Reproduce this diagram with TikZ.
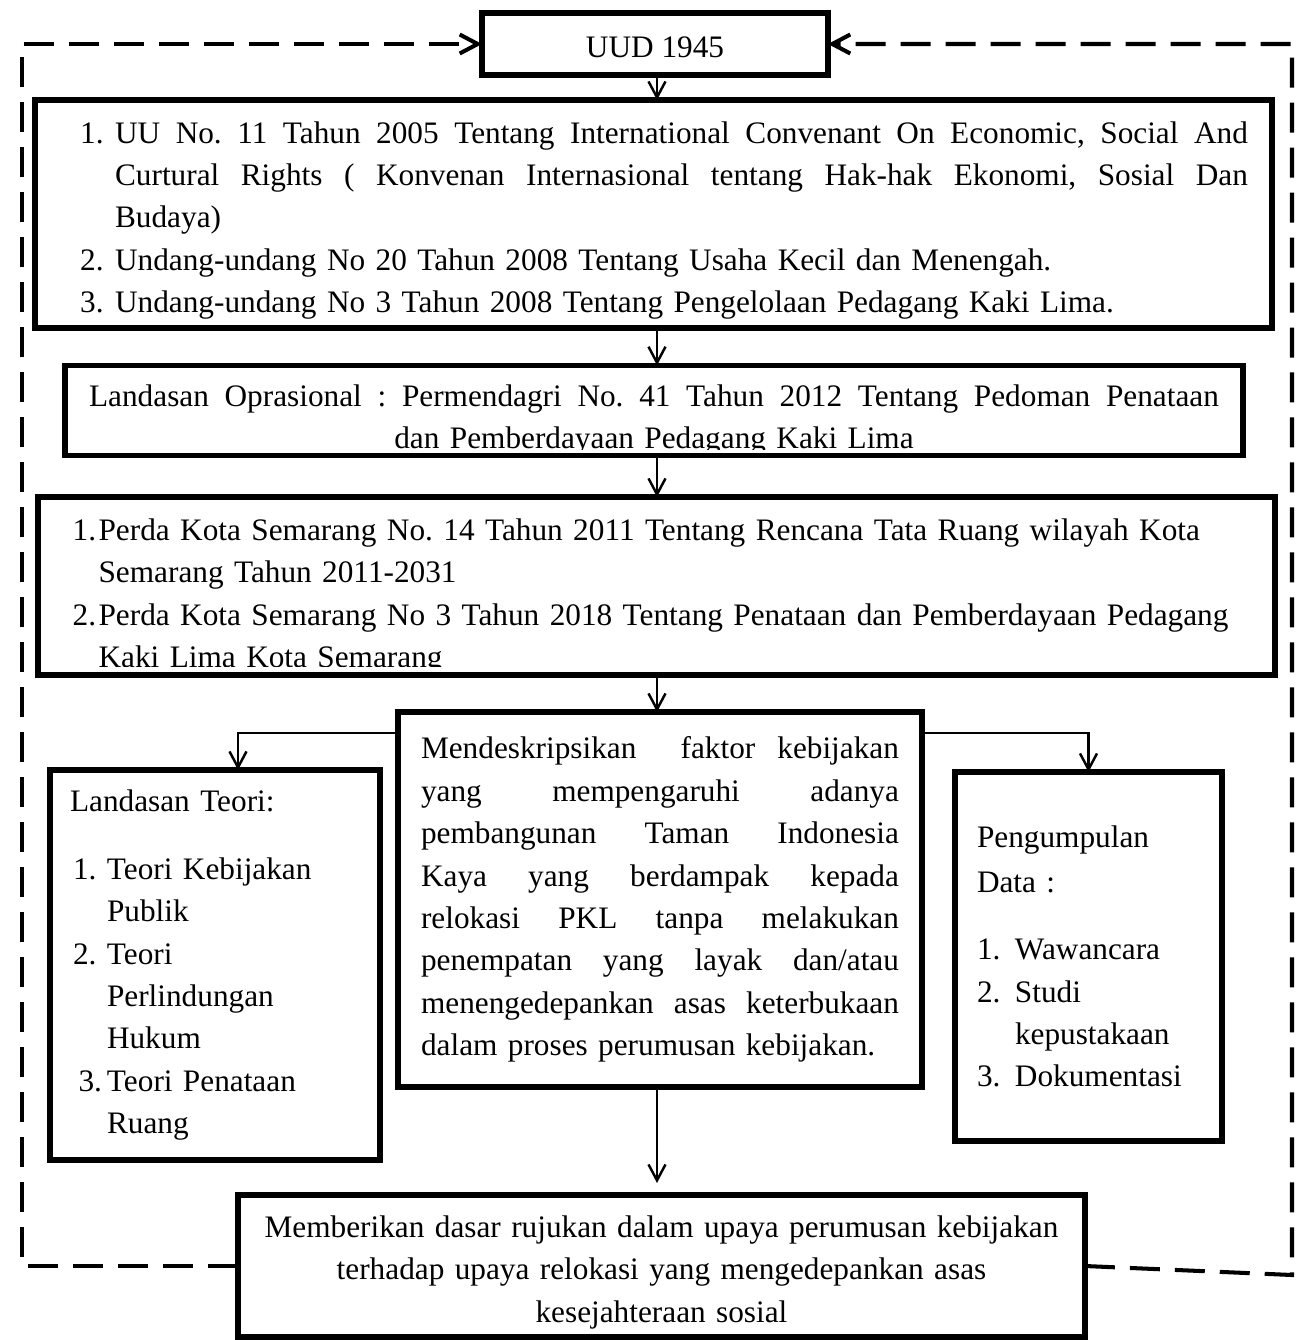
\documentclass[tikz,border=0pt]{standalone}
\usepackage{fontspec}
\setmainfont{Liberation Serif}
\usetikzlibrary{arrows.meta,positioning}
\definecolor{ink}{HTML}{000000}
\frenchspacing
% a line spread to a given width, as in justified text
\newcommand{\fullline}[2]{\leavevmode\hbox to #1{\spaceskip=\fontdimen2\font plus 1fil\xspaceskip=\spaceskip #2}}
% extra room above the first line, pushes the text block down
\newcommand{\topgap}[1]{\rule{0pt}{#1}}

\begin{document}
\begin{tikzpicture}[
  x=0.02cm, y=-0.02cm,
  box/.style={
    draw=ink,
    line width=3pt,
    inner sep=0pt,
    outer sep=0pt,
    align=left,
    font=\fontsize{17.8}{24.1}\selectfont
  },
  cutbox/.style={box, draw=none},
  frame/.style={draw=ink, line width=3pt},
  flow/.style={-{Straight Barb[length=3.2mm,width=3.4mm]}, draw=ink, line width=1.4pt},
  feedback/.style={-{Straight Barb[length=3.6mm,width=3.8mm]}, draw=ink, line width=2.3pt,
    dash pattern=on 0.6cm off 0.3cm}
]
\useasboundingbox (0,0) rectangle (1298,1340);

\coordinate (axis) at (657,0);
\coordinate (leftrail) at (22,0);
\coordinate (rbend) at (1292,1275);

\node[box, align=center, minimum width=6.92cm, minimum height=1.24cm] (uud) at (655,44) {\topgap{15pt}UUD 1945};

\node[box, text width=23.76cm, minimum width=24.74cm, minimum height=4.56cm] (uu) at (653.5,214) {
  \topgap{19.5pt}\hspace*{0.41cm}\makebox[0.7cm][l]{1.}\fullline{22.66cm}{UU No. 11 Tahun 2005 Tentang International Convenant On Economic, Social And}\\
  \hspace*{1.11cm}\fullline{22.66cm}{Curtural Rights ( Konvenan Internasional tentang Hak-hak Ekonomi, Sosial Dan}\\
  \hspace*{1.11cm}Budaya)\\
  \hspace*{0.41cm}\makebox[0.7cm][l]{2.}\mbox{Undang-undang No 20 Tahun 2008 Tentang Usaha Kecil dan Menengah.}\\
  \hspace*{0.41cm}\makebox[0.7cm][l]{3.}\mbox{Undang-undang No 3 Tahun 2008 Tentang Pengelolaan Pedagang Kaki Lima.}
};

% operational basis, last line cut off at the bottom
\begin{scope}
  \clip (0,300) rectangle (1298,449);
  \node[cutbox, align=center, text width=22.6cm, minimum width=23.56cm, minimum height=1.78cm] (opr) at (654,410.5) {
    \topgap{23.5pt}\fullline{22.6cm}{Landasan Oprasional : Permendagri No. 41 Tahun 2012 Tentang Pedoman Penataan}\\
    dan Pemberdayaan Pedagang Kaki Lima
  };
\end{scope}
\draw[frame] (opr.north west) rectangle (opr.south east);

% local regulations, last line cut off at the bottom
\begin{scope}
  \clip (0,480) rectangle (1298,666);
  \node[cutbox, text width=23.36cm, minimum width=24.74cm, minimum height=3.56cm] (perda) at (656.5,586) {
    \topgap{24.5pt}\makebox[0.52cm][l]{1.}\mbox{Perda Kota Semarang No. 14 Tahun 2011 Tentang Rencana Tata Ruang wilayah Kota}\\
    \hspace*{0.52cm}Semarang Tahun 2011-2031\\
    \makebox[0.52cm][l]{2.}\mbox{Perda Kota Semarang No 3 Tahun 2018 Tentang Penataan dan Pemberdayaan Pedagang}\\
    \hspace*{0.52cm}Kaki Lima Kota Semarang
  };
\end{scope}
\draw[frame] (perda.north west) rectangle (perda.south east);

\node[box, text width=9.56cm, minimum width=10.48cm, minimum height=7.5cm] (tujuan) at (660,899.5) {
  \fullline{9.56cm}{Mendeskripsikan~~faktor kebijakan}\\
  \fullline{9.56cm}{yang mempengaruhi adanya}\\
  \fullline{9.56cm}{pembangunan Taman Indonesia}\\
  \fullline{9.56cm}{Kaya yang berdampak kepada}\\
  \fullline{9.56cm}{relokasi PKL tanpa melakukan}\\
  \fullline{9.56cm}{penempatan yang layak dan/atau}\\
  \fullline{9.56cm}{menengedepankan asas keterbukaan}\\
  dalam proses perumusan kebijakan.
};

\node[box, text width=5.8cm, minimum width=6.6cm, minimum height=7.8cm] (teori) at (215,965) {
  Landasan Teori:\\[0.52cm]
  \hspace*{0.06cm}\makebox[0.68cm][l]{1.}Teori Kebijakan\\
  \hspace*{0.74cm}Publik\\
  \hspace*{0.06cm}\makebox[0.68cm][l]{2.}Teori\\
  \hspace*{0.74cm}Perlindungan\\
  \hspace*{0.74cm}Hukum\\
  \makebox[0.74cm][r]{3.\hspace{0.1cm}}Teori Penataan\\
  \hspace*{0.74cm}Ruang
};

\node[box, text width=4.46cm, minimum width=5.34cm, minimum height=7.38cm] (data) at (1088.5,956.5) {
  Pengumpulan\\[0.06cm]
  Data :\\[0.5cm]
  \makebox[0.76cm][l]{1.}Wawancara\\
  \makebox[0.76cm][l]{2.}Studi\\
  \hspace*{0.76cm}kepustakaan\\
  \makebox[0.76cm][l]{3.}Dokumentasi
};

\node[box, align=center, text width=16.4cm, minimum width=16.94cm, minimum height=2.84cm] (hasil) at (661.5,1266) {
  \topgap{19.5pt}Memberikan dasar rujukan dalam upaya perumusan kebijakan\\
  terhadap upaya relokasi yang mengedepankan asas\\
  kesejahteraan sosial
};

\draw[flow] (uud.south -| axis) -- (uu.north -| axis);
\draw[flow] (uu.south -| axis) -- (opr.north -| axis);
\draw[flow] (opr.south -| axis) -- (perda.north -| axis);
\draw[flow] (perda.south -| axis) -- (tujuan.north -| axis);
\draw[flow] (tujuan.south -| axis) -- ([yshift=0.24cm]hasil.north -| axis);
\draw[flow] ([yshift=-0.42cm]tujuan.north west) -| ([xshift=0.46cm]teori.north);
\draw[flow] ([yshift=-0.42cm]tujuan.north east) -| (data.north);

\draw[feedback] (hasil.west) -| (uud.west -| leftrail) -- (uud.west);
\draw[feedback] (hasil.east) -- (rbend) |- (uud.east);

\end{tikzpicture}
\end{document}
